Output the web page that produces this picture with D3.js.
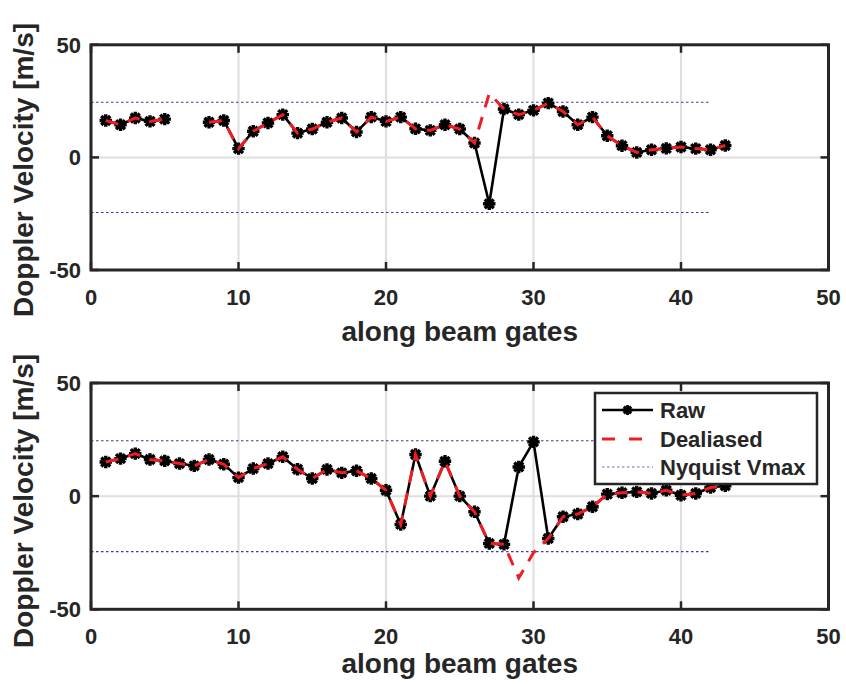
<!DOCTYPE html>
<html>
<head>
<meta charset="utf-8">
<script src="https://cdn.jsdelivr.net/npm/d3@7"></script>
<style>
  html, body { margin: 0; padding: 0; background: #fff; }
  svg { display: block; }
  text { font-family: "Liberation Sans", Arial, Helvetica, sans-serif; font-weight: bold; fill: #262626; }
</style>
</head>
<body>
<script>
// Range gates along the beam
const gates = [1,2,3,4,5,6,7,8,9,10,11,12,13,14,15,16,17,18,19,20,21,22,23,24,25,26,27,28,29,30,31,32,33,34,35,36,37,38,39,40,41,42,43];

// Panel 1: raw and dealiased Doppler velocity (m/s); null = no data
const rawA = [16.4,14.5,17.5,16,17,null,null,15.6,16.4,3.9,11.6,15.3,19,10.8,12.6,15.6,17.5,11.3,17.9,16,17.9,12.7,12,14.5,12.6,6.4,-20.6,21.5,19,20.9,24.1,20.4,14.5,17.9,9.6,5.2,2.2,3.4,4,4.6,3.9,3.4,5.3];
const dealA = [16.4,14.5,17.5,16,17,null,null,15.6,16.4,3.9,11.6,15.3,19,10.8,12.6,15.6,17.5,11.3,17.9,16,17.9,12.7,12,14.5,12.6,6.4,28.4,21.5,19,20.9,24.1,20.4,14.5,17.9,9.6,5.2,2.2,3.4,4,4.6,3.9,3.4,5.3];

// Panel 2: raw and dealiased Doppler velocity (m/s)
const rawB = [15.1,16.6,18.8,16.2,15.6,14.4,13.4,16.2,14.1,8.2,12.2,14.4,17.4,11.9,7.8,11.8,10.3,11.2,7.8,2.6,-12.5,18.4,0,15.4,0,-6.9,-20.9,-21.3,12.9,24,-18.7,-9.1,-7.9,-4.7,0.9,1.5,1.9,1.2,2.6,0.4,1.2,3.8,4.6];
const dealB = [15.1,16.6,18.8,16.2,15.6,14.4,13.4,16.2,14.1,8.2,12.2,14.4,17.4,11.9,7.8,11.8,10.3,11.2,7.8,2.6,-12.5,18.4,0,15.4,0,-6.9,-20.9,-21.3,-36.1,-25.0,-18.7,-9.1,-7.9,-4.7,0.9,1.5,1.9,1.2,2.6,0.4,1.2,3.8,4.6];

// Nyquist velocity limit and the gate span it is drawn over
const nyquistVmax = 24.5;
const nyquistSpan = [0, 42];

// Axis ticks and labels
const xTicks = [0, 10, 20, 30, 40, 50];
const yTicks = [-50, 0, 50];
const xDomain = [0, 50];
const yDomain = [-50, 50];
const xLabel = "along beam gates";
const yLabel = "Doppler Velocity [m/s]";
const legendLabels = ["Raw", "Dealiased", "Nyquist Vmax"];

const W = 846, H = 684;
const axisColor = "#262626";
const gridColor = "#dedede";
const rawColor = "#000000";
const dealColor = "#f01c24";
const nyqColor = "#3a3aa8";

const svg = d3.select("body").append("svg")
  .attr("width", W).attr("height", H)
  .attr("viewBox", `0 0 ${W} ${H}`);
svg.append("rect").attr("width", W).attr("height", H).attr("fill", "#fff");

// asterisk marker: + and x overlaid
function asteriskPath(s) {
  const k = s * 0.72;
  return `M${-s},0L${s},0M0,${-s}L0,${s}M${-k},${-k}L${k},${k}M${-k},${k}L${k},${-k}`;
}

const panels = [
  { raw: rawA, deal: dealA, top: 44.8, bottom: 270, ylabY: 170, xlabOff: 71, legend: false },
  { raw: rawB, deal: dealB, top: 383, bottom: 609.3, ylabY: 501, xlabOff: 64, legend: true }
];

const left = 91, right = 828.5;
const x = d3.scaleLinear().domain(xDomain).range([left, right]);

panels.forEach(p => {
  const y = d3.scaleLinear().domain(yDomain).range([p.bottom, p.top]);
  const g = svg.append("g");

  // grid lines
  g.append("g").selectAll("line")
    .data(xTicks.filter(t => t > xDomain[0] && t < xDomain[1]))
    .join("line")
    .attr("x1", d => x(d)).attr("x2", d => x(d))
    .attr("y1", p.top).attr("y2", p.bottom)
    .attr("stroke", gridColor).attr("stroke-width", 2);
  g.append("g").selectAll("line")
    .data(yTicks.filter(t => t > yDomain[0] && t < yDomain[1]))
    .join("line")
    .attr("x1", left).attr("x2", right)
    .attr("y1", d => y(d)).attr("y2", d => y(d))
    .attr("stroke", gridColor).attr("stroke-width", 2);

  // Nyquist limits
  [nyquistVmax, -nyquistVmax].forEach(v => {
    g.append("line")
      .attr("x1", x(nyquistSpan[0])).attr("x2", x(nyquistSpan[1]))
      .attr("y1", y(v)).attr("y2", y(v))
      .attr("stroke", nyqColor).attr("stroke-width", 1.1)
      .attr("stroke-dasharray", "2.5,2.5");
  });

  const line = d3.line()
    .defined(d => d[1] != null)
    .x(d => x(d[0])).y(d => y(d[1]));

  const rawPts = gates.map((gt, i) => [gt, p.raw[i]]);
  const dealPts = gates.map((gt, i) => [gt, p.deal[i]]);

  // raw series with asterisk markers
  g.append("path").datum(rawPts)
    .attr("d", line).attr("fill", "none")
    .attr("stroke", rawColor).attr("stroke-width", 2.6)
    .attr("stroke-linejoin", "round");
  const mk = g.append("g").selectAll("g")
    .data(rawPts.filter(d => d[1] != null))
    .join("g")
    .attr("transform", d => `translate(${x(d[0])},${y(d[1])})`);
  mk.append("path")
    .attr("d", asteriskPath(6.2))
    .attr("fill", "none").attr("stroke", rawColor).attr("stroke-width", 3.4);
  mk.append("circle").attr("r", 3.8).attr("fill", rawColor);

  // dealiased series
  g.append("path").datum(dealPts)
    .attr("d", line).attr("fill", "none")
    .attr("stroke", dealColor).attr("stroke-width", 3)
    .attr("stroke-dasharray", "13,10");

  // box
  g.append("rect")
    .attr("x", left).attr("y", p.top)
    .attr("width", right - left).attr("height", p.bottom - p.top)
    .attr("fill", "none").attr("stroke", axisColor).attr("stroke-width", 3);

  // inward tick marks
  const tl = 8;
  xTicks.forEach(t => {
    g.append("line").attr("x1", x(t)).attr("x2", x(t))
      .attr("y1", p.bottom).attr("y2", p.bottom - tl)
      .attr("stroke", axisColor).attr("stroke-width", 2.5);
    g.append("line").attr("x1", x(t)).attr("x2", x(t))
      .attr("y1", p.top).attr("y2", p.top + tl)
      .attr("stroke", axisColor).attr("stroke-width", 2.5);
  });
  yTicks.forEach(t => {
    g.append("line").attr("x1", left).attr("x2", left + tl)
      .attr("y1", y(t)).attr("y2", y(t))
      .attr("stroke", axisColor).attr("stroke-width", 2.5);
    g.append("line").attr("x1", right).attr("x2", right - tl)
      .attr("y1", y(t)).attr("y2", y(t))
      .attr("stroke", axisColor).attr("stroke-width", 2.5);
  });

  // tick labels
  g.append("g").selectAll("text")
    .data(xTicks).join("text")
    .attr("x", d => x(d)).attr("y", p.bottom + 35)
    .attr("text-anchor", "middle").attr("font-size", 22)
    .text(d => d);
  g.append("g").selectAll("text")
    .data(yTicks).join("text")
    .attr("x", 81).attr("y", d => y(d) + 8)
    .attr("text-anchor", "end").attr("font-size", 22)
    .text(d => d);

  // axis labels
  g.append("text")
    .attr("x", (left + right) / 2).attr("y", p.bottom + p.xlabOff)
    .attr("text-anchor", "middle").attr("font-size", 28)
    .text(xLabel);
  g.append("text")
    .attr("transform", `translate(33,${p.ylabY}) rotate(-90)`)
    .attr("text-anchor", "middle").attr("font-size", 28)
    .text(yLabel);

  // legend
  if (p.legend) {
    const lg = svg.append("g");
    lg.append("rect")
      .attr("x", 595).attr("y", 393).attr("width", 222).attr("height", 91)
      .attr("fill", "#fff").attr("stroke", axisColor).attr("stroke-width", 2.5);
    const rows = [410, 439, 467];
    const x0 = 602, x1 = 653;
    // Raw
    lg.append("line").attr("x1", x0).attr("x2", x1).attr("y1", rows[0]).attr("y2", rows[0])
      .attr("stroke", rawColor).attr("stroke-width", 2.6);
    lg.append("path").attr("transform", `translate(${(x0 + x1) / 2},${rows[0]})`)
      .attr("d", asteriskPath(5)).attr("fill", "none").attr("stroke", rawColor).attr("stroke-width", 2.8);
    lg.append("circle").attr("cx", (x0 + x1) / 2).attr("cy", rows[0]).attr("r", 3).attr("fill", rawColor);
    // Dealiased
    lg.append("line").attr("x1", x0).attr("x2", x1).attr("y1", rows[1]).attr("y2", rows[1])
      .attr("stroke", dealColor).attr("stroke-width", 3).attr("stroke-dasharray", "13,14");
    // Nyquist
    lg.append("line").attr("x1", x0).attr("x2", x1).attr("y1", rows[2]).attr("y2", rows[2])
      .attr("stroke", "#6a6ac8").attr("stroke-width", 1.1).attr("stroke-dasharray", "2.5,2.5");
    lg.selectAll("text.lab").data(legendLabels).join("text")
      .attr("class", "lab")
      .attr("x", 660).attr("y", (d, i) => rows[i] + 8)
      .attr("font-size", 22)
      .text(d => d);
  }
});
</script>
</body>
</html>
